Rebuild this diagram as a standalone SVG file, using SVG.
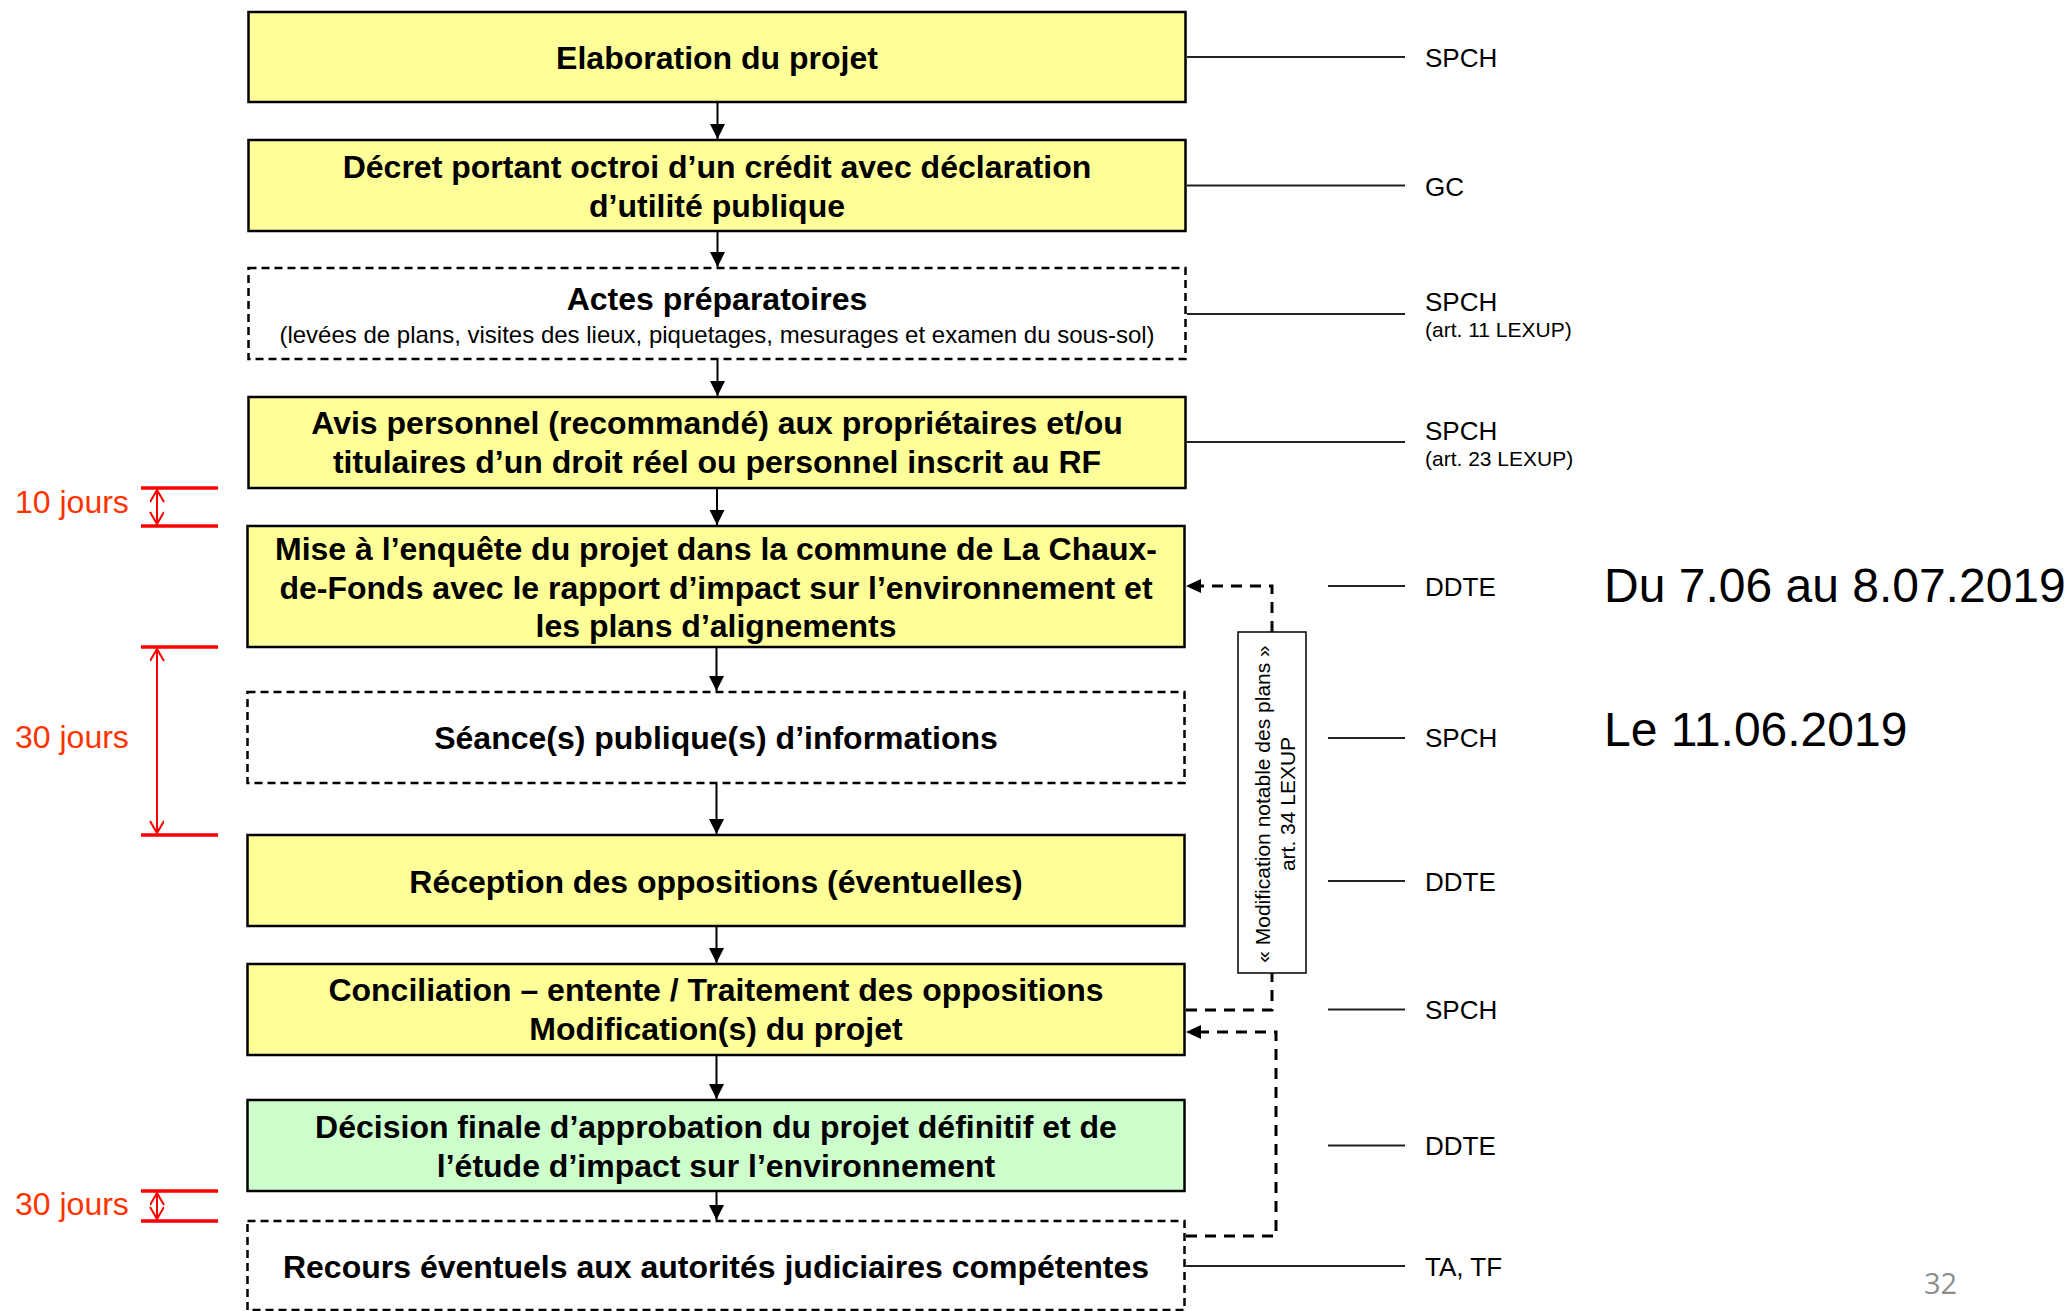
<svg xmlns="http://www.w3.org/2000/svg" width="2072" height="1311" viewBox="0 0 2072 1311">
<style>
  .box { fill: #FFFF99; stroke: #000; stroke-width: 2.5; }
  .green { fill: #CCFFCC; stroke: #000; stroke-width: 2.5; }
  .dbox { fill: #FFFFFF; stroke: #000; stroke-width: 2.5; stroke-dasharray: 8 5; }
  .t { font-family: "Liberation Sans", Arial, sans-serif; font-weight: bold; font-size: 32px; fill: #000; text-anchor: middle; }
  .sub { font-family: "Liberation Sans", Arial, sans-serif; font-size: 24px; fill: #000; text-anchor: middle; }
  .lab { font-family: "Liberation Sans", Arial, sans-serif; font-size: 26px; fill: #000; }
  .lab2 { font-family: "Liberation Sans", Arial, sans-serif; font-size: 21px; fill: #000; }
  .big { font-family: "Liberation Sans", Arial, sans-serif; font-size: 48px; fill: #000; }
  .red { font-family: "Liberation Sans", Arial, sans-serif; font-size: 32px; fill: #FF3300; }
  .rot { font-family: "Liberation Sans", Arial, sans-serif; font-size: 21px; fill: #000; text-anchor: middle; }
  .flow { stroke: #000; stroke-width: 2; fill: none; marker-end: url(#arr); }
  .lead { stroke: #222; stroke-width: 2; fill: none; }
  .dash { stroke: #000; stroke-width: 3; fill: none; stroke-dasharray: 11 8; }
  .rline { stroke: #FF0000; stroke-width: 3.5; }
  .rarr { stroke: #FF0000; stroke-width: 2; fill: none; marker-start: url(#rarr); marker-end: url(#rarr); }
</style>
<defs>
  <marker id="arr" markerUnits="userSpaceOnUse" markerWidth="16" markerHeight="16" refX="15" refY="7.5" orient="auto">
    <path d="M0,0 L15,7.5 L0,15 z" fill="#000"/>
  </marker>
  <marker id="rarr" markerUnits="userSpaceOnUse" markerWidth="16" markerHeight="18" refX="13" refY="7" orient="auto-start-reverse">
    <path d="M1,0 L13,7 L1,14" fill="none" stroke="#FF0000" stroke-width="2"/>
  </marker>
</defs>
<rect width="2072" height="1311" fill="#FFFFFF"/>

<g id="connectors">
  <line class="flow" x1="717.5" y1="103" x2="717.5" y2="139"/>
  <line class="flow" x1="717.5" y1="232" x2="717.5" y2="267"/>
  <line class="flow" x1="717.5" y1="360" x2="717.5" y2="396"/>
  <line class="flow" x1="717" y1="489" x2="717" y2="525"/>
  <line class="flow" x1="716.5" y1="648" x2="716.5" y2="691"/>
  <line class="flow" x1="716.5" y1="784" x2="716.5" y2="834"/>
  <line class="flow" x1="716.5" y1="927" x2="716.5" y2="963"/>
  <line class="flow" x1="716.5" y1="1056" x2="716.5" y2="1099"/>
  <line class="flow" x1="716.5" y1="1192" x2="716.5" y2="1220"/>

  <line class="lead" x1="1187" y1="57" x2="1405" y2="57" stroke="#555"/>
  <line class="lead" x1="1187" y1="185.5" x2="1405" y2="185.5"/>
  <line class="lead" x1="1187" y1="314" x2="1405" y2="314"/>
  <line class="lead" x1="1187" y1="442" x2="1405" y2="442"/>
  <line class="lead" x1="1328" y1="586" x2="1405" y2="586"/>
  <line class="lead" x1="1328" y1="738" x2="1405" y2="738"/>
  <line class="lead" x1="1328" y1="881" x2="1405" y2="881"/>
  <line class="lead" x1="1328" y1="1009.5" x2="1405" y2="1009.5"/>
  <line class="lead" x1="1328" y1="1145.5" x2="1405" y2="1145.5"/>
  <line class="lead" x1="1186" y1="1266" x2="1405" y2="1266"/>

  <path class="dash" d="M1186,1010 H1272 V973"/>
  <path class="dash" d="M1272,632 V586 H1199"/>
  <path d="M1186,586 L1201,579 L1201,593 z" fill="#000"/>
  <path class="dash" d="M1186,1236 H1276 V1032 H1199"/>
  <path d="M1186,1032 L1201,1025 L1201,1039 z" fill="#000"/>
</g>

<g id="n1">
  <rect class="box" x="248.5" y="12" width="937" height="90"/>
  <text class="t" x="717" y="69">Elaboration du projet</text>
</g>
<g id="n2">
  <rect class="box" x="248.5" y="140" width="937" height="91"/>
  <text class="t" x="717" y="178">Décret portant octroi d’un crédit avec déclaration</text>
  <text class="t" x="717" y="217">d’utilité publique</text>
</g>
<g id="n3">
  <rect class="dbox" x="248.5" y="268" width="937" height="91"/>
  <text class="t" x="717" y="310">Actes préparatoires</text>
  <text class="sub" x="717" y="343">(levées de plans, visites des lieux, piquetages, mesurages et examen du sous-sol)</text>
</g>
<g id="n4">
  <rect class="box" x="248.5" y="397" width="937" height="91"/>
  <text class="t" x="717" y="434">Avis personnel (recommandé) aux propriétaires et/ou</text>
  <text class="t" x="717" y="473">titulaires d’un droit réel ou personnel inscrit au RF</text>
</g>
<g id="n5">
  <rect class="box" x="247.5" y="526" width="937" height="121"/>
  <text class="t" x="716" y="560">Mise à l’enquête du projet dans la commune de La Chaux-</text>
  <text class="t" x="716" y="598.5">de-Fonds avec le rapport d’impact sur l’environnement et</text>
  <text class="t" x="716" y="637">les plans d’alignements</text>
</g>
<g id="n6">
  <rect class="dbox" x="247.5" y="692" width="937" height="91"/>
  <text class="t" x="716" y="749">Séance(s) publique(s) d’informations</text>
</g>
<g id="n7">
  <rect class="box" x="247.5" y="835" width="937" height="91"/>
  <text class="t" x="716" y="893">Réception des oppositions (éventuelles)</text>
</g>
<g id="n8">
  <rect class="box" x="247.5" y="964" width="937" height="91"/>
  <text class="t" x="716" y="1001">Conciliation – entente / Traitement des oppositions</text>
  <text class="t" x="716" y="1040">Modification(s) du projet</text>
</g>
<g id="n9">
  <rect class="green" x="247.5" y="1100" width="937" height="91"/>
  <text class="t" x="716" y="1138">Décision finale d’approbation du projet définitif et de</text>
  <text class="t" x="716" y="1177">l’étude d’impact sur l’environnement</text>
</g>
<g id="n10">
  <rect class="dbox" x="247.5" y="1221" width="937" height="89"/>
  <text class="t" x="716" y="1278">Recours éventuels aux autorités judiciaires compétentes</text>
</g>

<g id="modif-box">
  <rect x="1238" y="632" width="68" height="341" fill="#FFFFFF" stroke="#000" stroke-width="1.5"/>
  <g transform="translate(1270,804) rotate(-90)">
    <text class="rot" x="0" y="0">« Modification notable des plans »</text>
    <text class="rot" x="0" y="25">art. 34 LEXUP</text>
  </g>
</g>

<g id="labels">
  <text class="lab" x="1425" y="66.5">SPCH</text>
  <text class="lab" x="1425" y="196">GC</text>
  <text class="lab" x="1425" y="311">SPCH</text>
  <text class="lab2" x="1425" y="337">(art. 11 LEXUP)</text>
  <text class="lab" x="1425" y="439.5">SPCH</text>
  <text class="lab2" x="1425" y="466">(art. 23 LEXUP)</text>
  <text class="lab" x="1425" y="596">DDTE</text>
  <text class="lab" x="1425" y="747">SPCH</text>
  <text class="lab" x="1425" y="891">DDTE</text>
  <text class="lab" x="1425" y="1019">SPCH</text>
  <text class="lab" x="1425" y="1155">DDTE</text>
  <text class="lab" x="1425" y="1276">TA, TF</text>
</g>

<g id="dates">
  <text class="big" x="1604" y="602">Du 7.06 au 8.07.2019</text>
  <text class="big" x="1604" y="746">Le 11.06.2019</text>
</g>

<g id="durations">
  <line class="rline" x1="141" y1="488" x2="218" y2="488"/>
  <line class="rline" x1="141" y1="526" x2="218" y2="526"/>
  <line class="rarr" x1="157" y1="490" x2="157" y2="524"/>
  <text class="red" x="15" y="513">10 jours</text>

  <line class="rline" x1="141" y1="647" x2="218" y2="647"/>
  <line class="rline" x1="141" y1="835" x2="218" y2="835"/>
  <line class="rarr" x1="157" y1="649" x2="157" y2="833"/>
  <text class="red" x="15" y="748">30 jours</text>

  <line class="rline" x1="141" y1="1191" x2="218" y2="1191"/>
  <line class="rline" x1="141" y1="1221" x2="218" y2="1221"/>
  <line class="rarr" x1="157" y1="1193" x2="157" y2="1219"/>
  <text class="red" x="15" y="1215">30 jours</text>
</g>

<text x="1924" y="1294" font-family="'Open Sans', 'Liberation Sans', sans-serif" font-size="29" fill="#8C8C8C">32</text>
</svg>
